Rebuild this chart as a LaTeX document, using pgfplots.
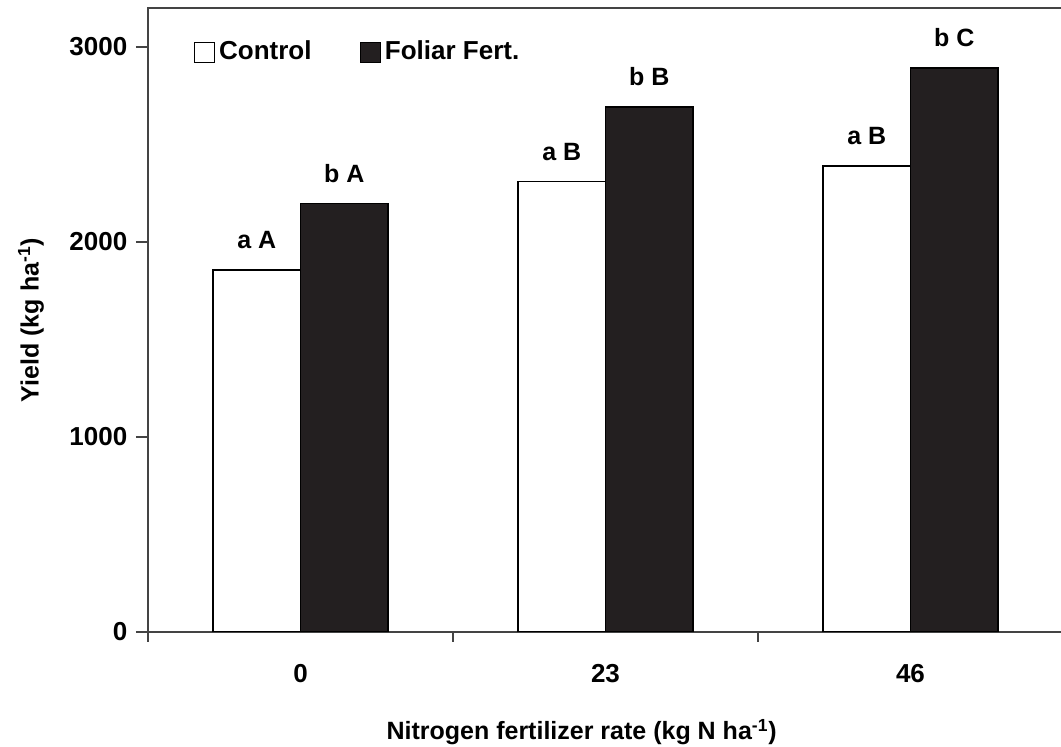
\documentclass[border=0pt]{standalone}
\usepackage{fontspec}
\setmainfont{Liberation Sans}
\usepackage{pgfplots}
\pgfplotsset{compat=1.18}
\definecolor{barblack}{HTML}{231F20}
\definecolor{framegray}{HTML}{444444}
\begin{document}
\fontsize{12.5}{15}\selectfont\bfseries
\begin{tikzpicture}
\useasboundingbox (-74pt,-57.5pt) rectangle (456.5pt,316pt);
\begin{axis}[
  at={(0,0)}, anchor=south west,
  scale only axis, width=457.5pt, height=312pt,
  ymin=0, ymax=3200, xmin=-0.5, xmax=2.5,
  ybar=0pt, bar width=0.287,
  axis line style={framegray, line width=1pt},
  tick pos=left,
  ytick={0,1000,2000,3000},
  xtick={0,1,2}, xticklabels={0,23,46},
  major x tick style={draw=none},
  minor xtick={-0.5,0.5,1.5,2.5},
  tick align=outside,
  major tick length=6pt, minor tick length=5pt,
  tick style={framegray, line width=1pt},
  /pgf/number format/1000 sep={},
  /pgf/number format/assume math mode=true,
  tick label style={font=\fontsize{13}{15}\selectfont\bfseries},
  xticklabel style={yshift=-6pt},
  every axis x label/.style={at={(axis description cs:0.474,0)}, anchor=center, yshift=-50pt},
  every axis y label/.style={at={([xshift=-58.5pt]axis description cs:0,0.5)}, rotate=90, anchor=center},
  xlabel={Nitrogen fertilizer rate (kg N ha\textsuperscript{-1})},
  ylabel={Yield (kg ha\textsuperscript{-1})},
  label style={font=\fontsize{12.5}{15}\selectfont\bfseries},
  nodes near coords,
  point meta=explicit symbolic,
  every node near coord/.append style={font=\fontsize{12.5}{15}\selectfont\bfseries, anchor=south, yshift=6pt, black},
  legend style={draw=none, fill=none, at={(0.043,0.929)}, anchor=west, legend columns=2,
    font=\fontsize{13}{15}\selectfont\bfseries,
    /tikz/every even column/.append style={column sep=22pt}},
  legend image code/.code={\draw[#1, line width=0.7pt] (0pt,-5pt) rectangle (10pt,5pt);},
]
\addplot[draw=black, fill=white, line width=0.8pt] table[meta=lab] {
x y lab
0 1855 {a A}
1 2310 {a B}
2 2390 {a B}
};
\addplot[draw=black, fill=barblack, line width=0.8pt] table[meta=lab] {
x y lab
0 2198 {b A}
1 2692 {b B}
2 2893 {b C}
};
\legend{Control, Foliar Fert.}
\end{axis}
\end{tikzpicture}
\end{document}
